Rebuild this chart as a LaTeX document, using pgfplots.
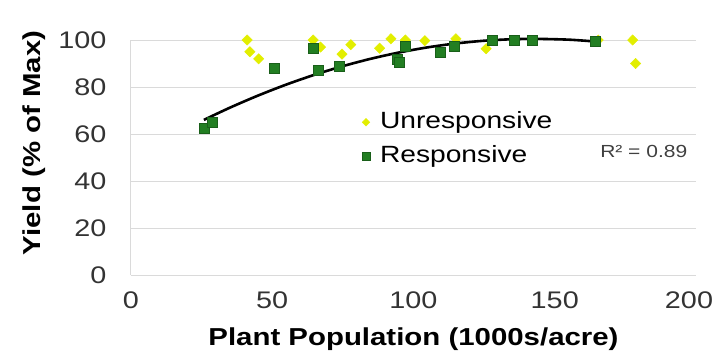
\documentclass[border=0pt]{standalone}
\usepackage{pgfplots}
\pgfplotsset{compat=1.18}
\usepackage{fontspec}
\setmainfont[FakeStretch=1.2]{Liberation Sans}
\definecolor{unresp}{RGB}{226,238,0}
\definecolor{resp}{RGB}{34,126,34}
\definecolor{respdark}{RGB}{25,95,25}
\definecolor{gridc}{RGB}{218,218,218}
\begin{document}
\begin{tikzpicture}
\begin{axis}[
  scale only axis, width=565pt, height=235pt,
  xmin=0, xmax=200, ymin=0, ymax=100,
  xtick={0,50,100,150,200}, ytick={0,20,40,60,80,100},
  xticklabels={0,50,100,150,\hspace*{-14pt}200},
  axis lines=left, axis line style={gridc, line width=1pt, -},
  ymajorgrids, grid style={gridc, line width=1pt},
  major tick length=0pt,
  /pgf/number format/assume math mode=true,
  tick label style={font=\fontsize{24}{28}\selectfont, text=black!80},
  xticklabel style={yshift=-13pt},
  yticklabel style={xshift=-21pt},
  xlabel={Plant Population (1000s/acre)},
  ylabel={Yield (\% of Max)},
  label style={font=\bfseries\fontsize{24.5}{28}\selectfont},
  xlabel style={at={(axis description cs:0.5,-0.302)}, anchor=base},
  ylabel style={at={(axis description cs:-0.16,0.562)}, anchor=base},
  clip=false,
  legend style={at={(axis cs:81.7,70.6)}, anchor=north west, draw=none, fill=none,
    font=\fontsize{23.5}{28}\selectfont, inner sep=0pt, row sep=8pt,
    nodes={inner sep=2pt, text height=17pt, text depth=5pt},
    /tikz/every odd column/.style={column sep=8pt}},
  legend cell align=left,
  legend image code/.code={\draw[mark repeat=2,mark phase=2,#1] plot coordinates {(0pt,0pt) (8pt,0pt) (16pt,0pt)};},
]
\addplot[only marks, mark=diamond*, mark size=5.2pt, color=unresp,
  mark options={fill=unresp, draw=unresp, xscale=1.33},
  legend image post style={mark size=3.8pt}]
coordinates {
(41.1,100) (42.1,95) (45.2,92) (64.5,100) (67.1,97) (74.7,94) (77.8,98) (88.0,96.5)
(92.0,100.5) (97.1,100) (104.0,99.7) (115.0,100.5) (125.7,96.3) (165.4,100) (177.6,100) (178.6,90)
};
\addlegendentry{Unresponsive}
\addplot[only marks, mark=square*, mark size=5pt, color=resp,
  mark options={fill=resp, draw=respdark},
  legend image post style={mark size=4pt}]
coordinates {
(25.8,62.5) (28.9,65) (50.8,88) (64.5,96.5) (66.1,87) (73.7,89) (94.1,92) (95.1,90.5)
(97.1,97.5) (109.4,95) (114.5,97.5) (127.7,100) (135.8,100) (142.0,100) (164.4,99.5)
};
\addlegendentry{Responsive}
\addplot[black, line width=2.6pt, smooth, forget plot] coordinates {
(25.8,66.0) (35,71.20) (45,76.37) (55,81.05) (65,85.22) (75,88.88) (85,92.05)
(95,94.71) (105,96.87) (115,98.53) (125,99.69) (135,100.34) (143,100.5)
(155,100.14) (164.4,99.35)
};
\node[anchor=base, font=\fontsize{17.5}{20}\selectfont, text=black!75] at (axis cs:181.5,49.8) {R² = 0.89};
\end{axis}
\pgfresetboundingbox
\path (-131pt,-85pt) rectangle (582pt,275pt);
\end{tikzpicture}
\end{document}
